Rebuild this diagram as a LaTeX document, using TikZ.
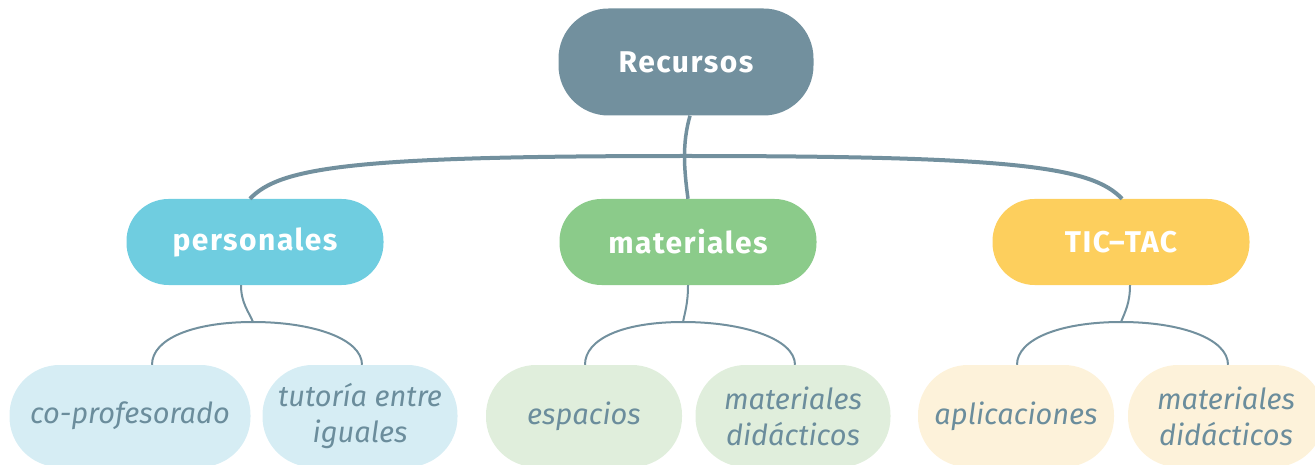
\documentclass[tikz,border=0pt]{standalone}
\usepackage{fontspec}
\setmainfont{Fira Sans}
\newfontfamily\titular[LetterSpace=5]{Fira Sans}
\usepackage{tikz}
\usetikzlibrary{positioning}

\definecolor{gris}{HTML}{72909E}
\definecolor{textogris}{HTML}{6B8D9C}
\definecolor{celeste}{HTML}{6FCDE0}
\definecolor{verde}{HTML}{8BCB8A}
\definecolor{amarillo}{HTML}{FDCF5D}
\definecolor{celesteclaro}{HTML}{D6EDF4}
\definecolor{verdeclaro}{HTML}{E0EEDC}
\definecolor{amarilloclaro}{HTML}{FDF2DA}

\begin{document}
\begin{tikzpicture}[
    x=1pt, y=-1pt,
    raiz/.style={rectangle, rounded corners=50pt, fill=gris, text=white, minimum width=255pt, minimum height=107pt, font=\titular\fontsize{30}{34}\selectfont\bfseries},
    rama/.style={rectangle, rounded corners=42pt, text=white, minimum width=257pt, minimum height=86pt, font=\titular\fontsize{30}{34}\selectfont\bfseries},
    hoja/.style={rectangle, rounded corners=50pt, text=textogris, minimum height=102pt, align=center, font=\fontsize{29}{36}\selectfont\itshape},
    tronco/.style={draw=gris, line width=4pt},
    enlace/.style={draw=gris, line width=2pt}
]
\clip (0,0) rectangle (1315,465);
% ---------- nivel 1 ----------
\node[raiz] (rec) at (686,62) {Recursos};
% ---------- nivel 2 ----------
\node[rama, fill=celeste]  (pers) at (255,242) {personales};
\node[rama, fill=verde]    (mat)  at (688,242) {materiales};
\node[rama, fill=amarillo] (tic)  at (1121,242) {TIC–TAC};
% ---------- nivel 3 ----------
\node[hoja, fill=celesteclaro, minimum width=241pt]  (cop)     at (130,416)  {co-profesorado};
\node[hoja, fill=celesteclaro, minimum width=195pt]  (tut)     at (360,416)  {tutoría entre\\iguales};
\node[hoja, fill=verdeclaro, minimum width=196pt]    (esp)     at (584,416)  {espacios};
\node[hoja, fill=verdeclaro, minimum width=195pt]    (matdid)  at (793,416)  {materiales\\didácticos};
\node[hoja, fill=amarilloclaro, minimum width=196pt] (apl)     at (1016,416) {aplicaciones};
\node[hoja, fill=amarilloclaro, minimum width=196pt] (matdid2) at (1226,416) {materiales\\didácticos};
% ---------- conectores ----------
\coordinate (cruce) at (686,156);
\coordinate (up) at (253,322);
\coordinate (um) at (683,322);
\coordinate (ut) at (1121,322);
\draw[tronco] ([xshift=-5pt]pers.north) .. controls +(30,-32) and +(-330,0) .. (cruce)
    .. controls +(330,0) and +(-30,-32) .. ([xshift=1pt]tic.north);
\draw[tronco, line width=3.5pt] ([xshift=4pt]rec.south) .. controls +(-8,28) and +(-4,-30) .. (mat.north);
\draw[enlace] ([xshift=-14pt]pers.south) .. controls +(0,18) and +(-4,-10) .. (up);
\draw[enlace] ([xshift=22pt]cop.north) .. controls +(0,-26) and +(-60,0) .. (up)
    .. controls +(60,0) and +(0,-26) .. ([xshift=2pt]tut.north);
\draw[enlace] (mat.south) .. controls +(0,18) and +(2,-10) .. (um);
\draw[enlace] ([xshift=1pt]esp.north) .. controls +(0,-26) and +(-60,0) .. (um)
    .. controls +(60,0) and +(0,-26) .. ([xshift=2pt]matdid.north);
\draw[enlace] ([xshift=9pt]tic.south) .. controls +(0,18) and +(4,-10) .. (ut);
\draw[enlace] ([xshift=1pt]apl.north) .. controls +(0,-26) and +(-60,0) .. (ut)
    .. controls +(60,0) and +(0,-26) .. ([xshift=2pt]matdid2.north);
\end{tikzpicture}
\end{document}
